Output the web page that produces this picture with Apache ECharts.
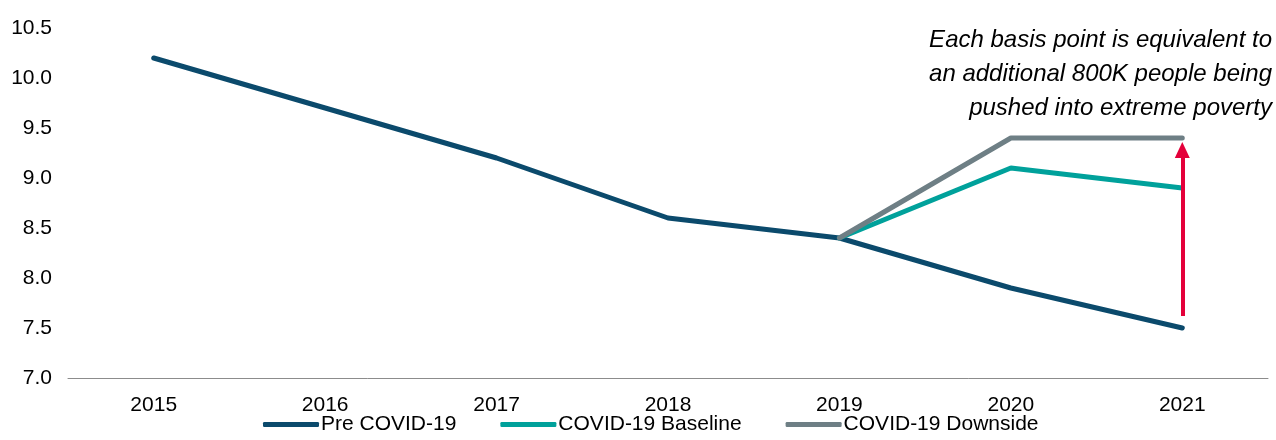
<!DOCTYPE html>
<html>
<head>
<meta charset="utf-8">
<script src="https://cdn.jsdelivr.net/npm/echarts@6/dist/echarts.min.js"></script>
<style>
html, body { margin: 0; padding: 0; background: #fff; }
#chart { width: 1276px; height: 440px; }
</style>
</head>
<body>
<div id="chart"></div>
<script>
var years = ['2015', '2016', '2017', '2018', '2019', '2020', '2021'];
var preCovid = [10.2, 9.7, 9.2, 8.6, 8.4, 7.9, 7.5];
var baseline = [null, null, null, null, 8.4, 9.1, 8.9];
var downside = [null, null, null, null, 8.4, 9.4, 9.4];
var arrowFrom = 7.62;
var arrowTo = 9.28;
var note = 'Each basis point is equivalent to\nan additional 800K people being\npushed into extreme poverty';

var chart = echarts.init(document.getElementById('chart'));
var font = 'Liberation Sans, Arial, sans-serif';

function lineSeries(name, data, color) {
	return {
		name: name,
		type: 'line',
		data: data,
		symbol: 'none',
		lineStyle: { width: 5, color: color, cap: 'round' },
		itemStyle: { color: color },
		animation: false
	};
}

var pre = lineSeries('Pre COVID-19', preCovid, '#0b4a6c');
var base = lineSeries('COVID-19 Baseline', baseline, '#00a19b');
var down = lineSeries('COVID-19 Downside', downside, '#6e7f85');

// red arrow at 2021, drawn through the axes
down.markLine = {
	silent: true,
	symbol: ['none', 'triangle'],
	symbolSize: [15, 16],
	label: { show: false },
	lineStyle: { color: '#e4003a', width: 4, type: 'solid' },
	data: [[{ coord: ['2021', arrowFrom] }, { coord: ['2021', arrowTo] }]]
};

var option = {
	backgroundColor: '#fff',
	animation: false,
	grid: { left: 68, right: 8, top: 28, bottom: 62 },
	legend: {
		bottom: 0,
		left: 258,
		itemWidth: 56,
		itemHeight: 5,
		itemGap: 44,
		icon: 'roundRect',
		textStyle: { fontFamily: font, fontSize: 21, color: '#000', padding: [0, 0, 0, -3] },
		data: ['Pre COVID-19', 'COVID-19 Baseline', 'COVID-19 Downside']
	},
	xAxis: {
		type: 'category',
		data: years,
		axisLine: { lineStyle: { color: '#8c8c8c', width: 1 } },
		axisTick: { show: false },
		axisLabel: { fontFamily: font, fontSize: 21, color: '#000', margin: 17 }
	},
	yAxis: {
		type: 'value',
		min: 7,
		max: 10.5,
		interval: 0.5,
		splitLine: { show: false },
		axisLine: { show: false },
		axisTick: { show: false },
		axisLabel: {
			fontFamily: font, fontSize: 21, color: '#000', margin: 16,
			formatter: function (v) { return v.toFixed(1); }
		}
	},
	graphic: [{
		type: 'text',
		x: 1272,
		y: 23,
		style: {
			text: note,
			fontFamily: font,
			fontStyle: 'italic',
			fontSize: 24,
			lineHeight: 34,
			fill: '#000',
			align: 'right'
		}
	}],
	series: [pre, base, down]
};

chart.setOption(option);
</script>
</body>
</html>
